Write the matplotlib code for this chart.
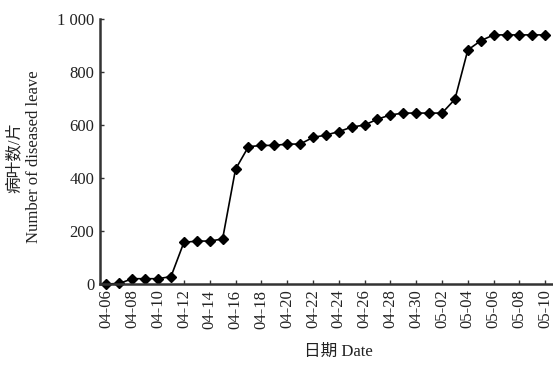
import matplotlib as mpl
mpl.use("Agg")
import matplotlib.pyplot as plt

mpl.rcParams["font.family"] = ["Liberation Serif", "Noto Sans CJK SC", "DejaVu Sans"]
mpl.rcParams["axes.spines.right"] = False
mpl.rcParams["axes.spines.top"] = False
mpl.rcParams["xtick.direction"] = "in"
mpl.rcParams["ytick.direction"] = "in"

# DATA
dates = ["04-06", "04-07", "04-08", "04-09", "04-10", "04-11", "04-12", "04-13",
         "04-14", "04-15", "04-16", "04-17", "04-18", "04-19", "04-20", "04-21",
         "04-22", "04-23", "04-24", "04-25", "04-26", "04-27", "04-28", "04-29",
         "04-30", "05-01", "05-02", "05-03", "05-04", "05-05", "05-06", "05-07",
         "05-08", "05-09", "05-10"]
diseased = [0, 2, 20, 20, 20, 28, 157, 162, 162, 170, 433, 518, 523, 523, 528, 528,
            553, 562, 575, 592, 600, 622, 638, 645, 645, 645, 645, 697, 883, 918,
            940, 940, 940, 940, 940]
yticks = [0, 200, 400, 600, 800, 1000]
ytick_labels = ["0", "200", "400", "600", "800", "1 000"]

W, H = 553, 375
fig = plt.figure(figsize=(W / 100, H / 100), dpi=100)
ax = fig.add_axes([100 / W, (H - 284) / H, (W - 100) / W, (284 - 19) / H])

x = list(range(len(dates)))
ax.plot(x, diseased, color="black", lw=1.2, marker="D", ms=4.8,
        markerfacecolor="black", markeredgecolor="black", clip_on=False)

ax.set_xlim(-0.5, 34.6)
ax.set_ylim(0, 1000)
ax.set_yticks(yticks)
ax.set_yticklabels(ytick_labels, fontsize=12)
ax.set_xticks(x[::2])
ax.set_xticklabels(dates[::2], rotation=90, fontsize=12)

for s in ("left", "bottom"):
    ax.spines[s].set_linewidth(1.8)
    ax.spines[s].set_color("#333333")
ax.tick_params(length=3, width=1, color="#333333", labelcolor="#222222", pad=4)

ax.set_ylabel("病叶数/片\nNumber of diseased leave", fontsize=12, color="#222222",
              linespacing=1.25)
ax.yaxis.set_label_coords((42 - 100) / (W - 100), (284 - 157) / (284 - 19))
ax.set_xlabel("日期 Date", fontsize=12, color="#222222")
ax.xaxis.set_label_coords((338 - 100) / (W - 100), -(344 - 284) / (284 - 19))

fig.savefig("out.png", dpi=100)
